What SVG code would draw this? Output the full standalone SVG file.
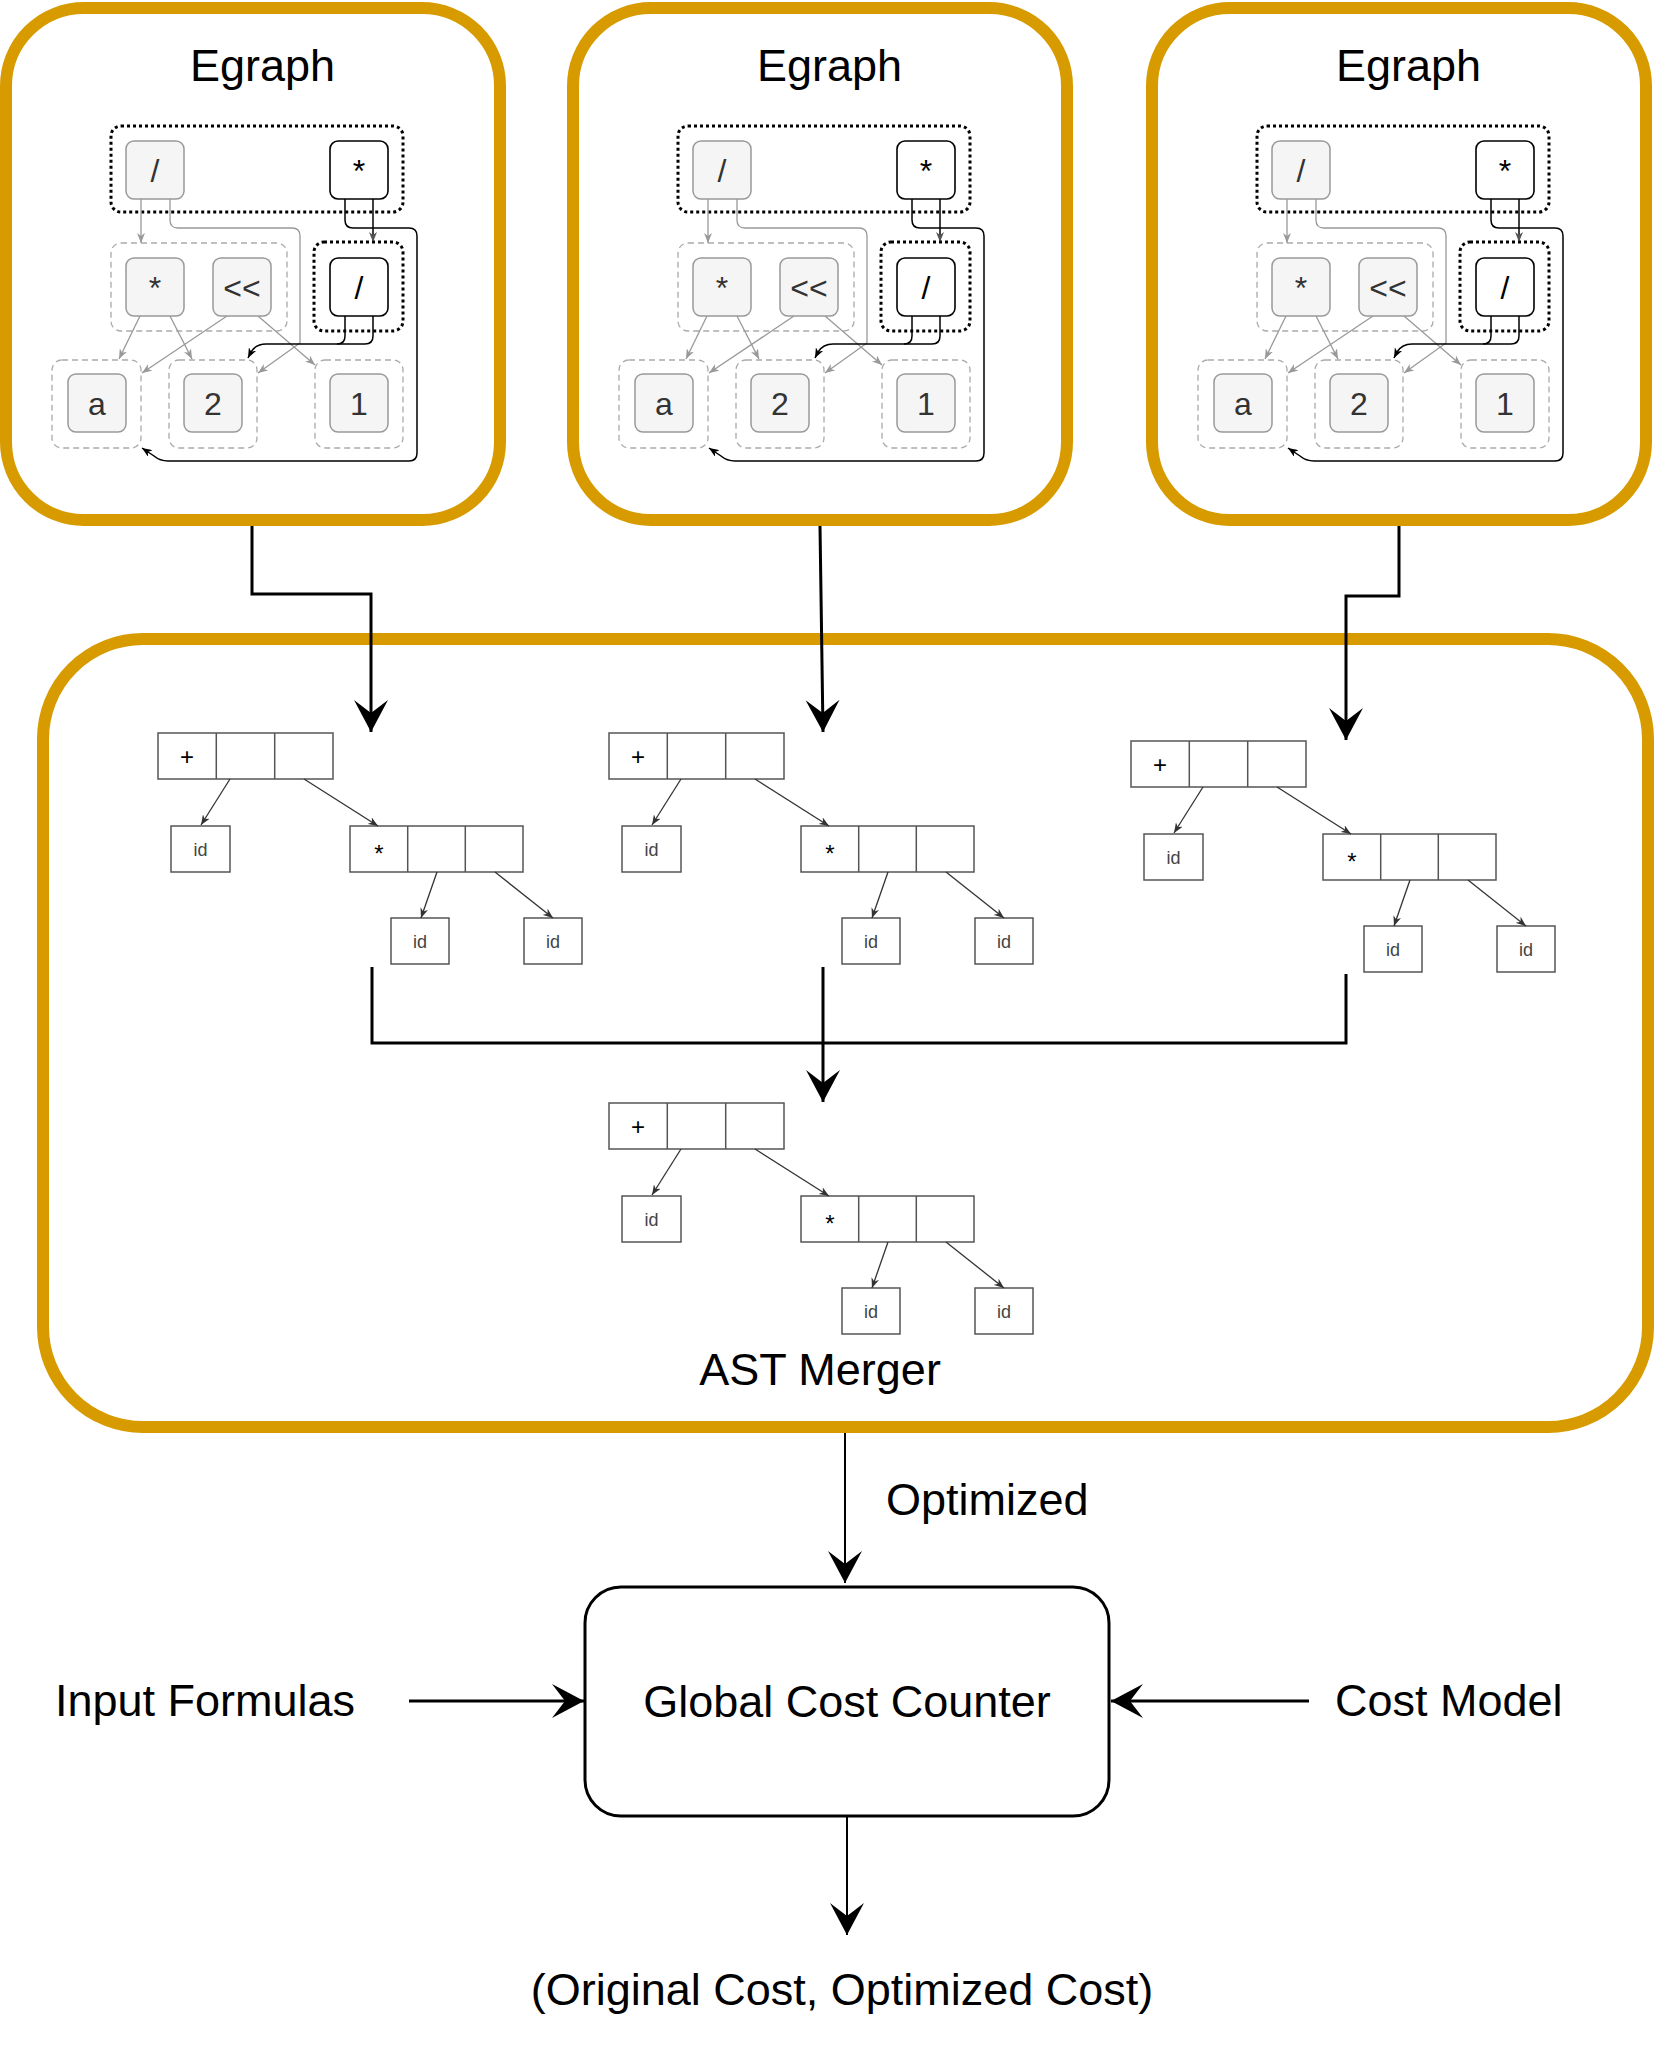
<svg xmlns="http://www.w3.org/2000/svg" width="1656" height="2048" viewBox="0 0 1656 2048">
<style>
text{font-family:"Liberation Sans",Arial,Helvetica,sans-serif}
.orange{fill:#fff;stroke:#D79B00;stroke-width:12}
.title{font-size:45px;fill:#000;text-anchor:middle}
.lbl{font-size:45px;fill:#000}
.dot{fill:none;stroke:#000;stroke-width:3;stroke-dasharray:3 3}
.dash{fill:none;stroke:#aaa;stroke-width:1.3;stroke-dasharray:6 4}
.gn{fill:#f5f5f5;stroke:#999;stroke-width:1.5}
.wn{fill:#fff;stroke:#000;stroke-width:1.6}
.gt{font-size:32px;fill:#333;text-anchor:middle}
.bt{font-size:32px;fill:#000;text-anchor:middle}
.ge{fill:none;stroke:#999;stroke-width:1.3;marker-end:url(#sg)}
.be{fill:none;stroke:#000;stroke-width:1.5}
.rec{fill:#fff;stroke:#555;stroke-width:1.5}
.op{font-size:24px;fill:#000;text-anchor:middle}
.id{font-size:18px;fill:#444;text-anchor:middle}
.te{fill:none;stroke:#333;stroke-width:1.3;marker-end:url(#st)}
.conn{fill:none;stroke:#000;stroke-width:3}
.conn2{fill:none;stroke:#000;stroke-width:2}
</style>
<defs>
<marker id="big" markerUnits="userSpaceOnUse" markerWidth="32" markerHeight="34" viewBox="0 0 32 34" refX="32" refY="17" orient="auto"><path d="M0,0 L32,17 L0,34 L13,17 Z" fill="#000"/></marker>
<marker id="sg" markerUnits="userSpaceOnUse" markerWidth="10" markerHeight="8" viewBox="0 0 10 8" refX="10" refY="4" orient="auto"><path d="M0,0 L10,4 L0,8 L3,4 Z" fill="#999"/></marker>
<marker id="sb" markerUnits="userSpaceOnUse" markerWidth="10" markerHeight="8" viewBox="0 0 10 8" refX="10" refY="4" orient="auto"><path d="M0,0 L10,4 L0,8 L3,4 Z" fill="#000"/></marker>
<marker id="sd" markerUnits="userSpaceOnUse" markerWidth="10" markerHeight="8" viewBox="0 0 10 8" refX="10" refY="4" orient="auto"><path d="M0,0 L10,4 L0,8 L3,4 Z" fill="#555"/></marker>
<marker id="st" markerUnits="userSpaceOnUse" markerWidth="10" markerHeight="8" viewBox="0 0 10 8" refX="10" refY="4" orient="auto"><path d="M0,0 L10,4 L0,8 L3,4 Z" fill="#333"/></marker>
</defs>

<!-- Egraph 1 -->
<g id="egraph1">
<rect class="orange" x="6" y="8" width="494" height="512" rx="78"/>
<text class="title" x="262.5" y="81">Egraph</text>
<g id="e1-classes">
<rect class="dot" x="111" y="126" width="292" height="86" rx="10"/>
<rect class="dash" x="111" y="243" width="176" height="88" rx="10"/>
<rect class="dot" x="314" y="242" width="89" height="89" rx="10"/>
<rect class="dash" x="52" y="360" width="89" height="88" rx="10"/>
<rect class="dash" x="169" y="360" width="88" height="88" rx="10"/>
<rect class="dash" x="315" y="360" width="88" height="88" rx="10"/>
</g>
<g id="e1-edges">
<path class="ge" d="M141,199 L141,243"/>
<path class="ge" d="M170,199 L170,220 Q170,228 178,228 L292,228 Q300,228 300,236 L300,343 L258,373"/>
<path class="ge" d="M140,316 L119,359"/>
<path class="ge" d="M170,316 L192,359"/>
<path class="ge" d="M227,316 L142,373"/>
<path class="ge" d="M258,316 L315,365"/>
<path class="be" d="M373,199 L373,242" stroke="#444" marker-end="url(#sd)"/>
<path class="be" d="M345,199 L345,220 Q345,228 353,228 L409,228 Q417,228 417,236 L417,453 Q417,461 409,461 L168,461 Q160,461 154,456 L142,448" marker-end="url(#sb)"/>
<path class="be" d="M345,316 L345,336 Q345,344 337,344 L266,344 Q256,344 251,352 L248,358" marker-end="url(#sb)"/>
<path class="be" d="M373,316 L373,336 Q373,344 365,344 L337,344"/>
</g>
<g id="e1-n1"><rect class="gn" x="126" y="141" width="58" height="58" rx="8"/><text class="gt" x="155" y="182">/</text></g>
<g id="e1-n2"><rect class="wn" x="330" y="141" width="58" height="58" rx="8"/><text class="bt" x="359" y="182">*</text></g>
<g id="e1-n3"><rect class="gn" x="126" y="258" width="58" height="58" rx="8"/><text class="gt" x="155" y="299">*</text></g>
<g id="e1-n4"><rect class="gn" x="213" y="258" width="58" height="58" rx="8"/><text class="gt" x="242" y="299">&lt;&lt;</text></g>
<g id="e1-n5"><rect class="wn" x="330" y="258" width="58" height="58" rx="8"/><text class="bt" x="359" y="299">/</text></g>
<g id="e1-n6"><rect class="gn" x="68" y="374" width="58" height="58" rx="8"/><text class="gt" x="97" y="415">a</text></g>
<g id="e1-n7"><rect class="gn" x="184" y="374" width="58" height="58" rx="8"/><text class="gt" x="213" y="415">2</text></g>
<g id="e1-n8"><rect class="gn" x="330" y="374" width="58" height="58" rx="8"/><text class="gt" x="359" y="415">1</text></g>
</g>

<!-- Egraph 2 -->
<g id="egraph2" transform="translate(567,0)">
<rect class="orange" x="6" y="8" width="494" height="512" rx="78"/>
<text class="title" x="262.5" y="81">Egraph</text>
<g id="e2-classes">
<rect class="dot" x="111" y="126" width="292" height="86" rx="10"/>
<rect class="dash" x="111" y="243" width="176" height="88" rx="10"/>
<rect class="dot" x="314" y="242" width="89" height="89" rx="10"/>
<rect class="dash" x="52" y="360" width="89" height="88" rx="10"/>
<rect class="dash" x="169" y="360" width="88" height="88" rx="10"/>
<rect class="dash" x="315" y="360" width="88" height="88" rx="10"/>
</g>
<g id="e2-edges">
<path class="ge" d="M141,199 L141,243"/>
<path class="ge" d="M170,199 L170,220 Q170,228 178,228 L292,228 Q300,228 300,236 L300,343 L258,373"/>
<path class="ge" d="M140,316 L119,359"/>
<path class="ge" d="M170,316 L192,359"/>
<path class="ge" d="M227,316 L142,373"/>
<path class="ge" d="M258,316 L315,365"/>
<path class="be" d="M373,199 L373,242" stroke="#444" marker-end="url(#sd)"/>
<path class="be" d="M345,199 L345,220 Q345,228 353,228 L409,228 Q417,228 417,236 L417,453 Q417,461 409,461 L168,461 Q160,461 154,456 L142,448" marker-end="url(#sb)"/>
<path class="be" d="M345,316 L345,336 Q345,344 337,344 L266,344 Q256,344 251,352 L248,358" marker-end="url(#sb)"/>
<path class="be" d="M373,316 L373,336 Q373,344 365,344 L337,344"/>
</g>
<g id="e2-n1"><rect class="gn" x="126" y="141" width="58" height="58" rx="8"/><text class="gt" x="155" y="182">/</text></g>
<g id="e2-n2"><rect class="wn" x="330" y="141" width="58" height="58" rx="8"/><text class="bt" x="359" y="182">*</text></g>
<g id="e2-n3"><rect class="gn" x="126" y="258" width="58" height="58" rx="8"/><text class="gt" x="155" y="299">*</text></g>
<g id="e2-n4"><rect class="gn" x="213" y="258" width="58" height="58" rx="8"/><text class="gt" x="242" y="299">&lt;&lt;</text></g>
<g id="e2-n5"><rect class="wn" x="330" y="258" width="58" height="58" rx="8"/><text class="bt" x="359" y="299">/</text></g>
<g id="e2-n6"><rect class="gn" x="68" y="374" width="58" height="58" rx="8"/><text class="gt" x="97" y="415">a</text></g>
<g id="e2-n7"><rect class="gn" x="184" y="374" width="58" height="58" rx="8"/><text class="gt" x="213" y="415">2</text></g>
<g id="e2-n8"><rect class="gn" x="330" y="374" width="58" height="58" rx="8"/><text class="gt" x="359" y="415">1</text></g>
</g>

<!-- Egraph 3 -->
<g id="egraph3" transform="translate(1146,0)">
<rect class="orange" x="6" y="8" width="494" height="512" rx="78"/>
<text class="title" x="262.5" y="81">Egraph</text>
<g id="e3-classes">
<rect class="dot" x="111" y="126" width="292" height="86" rx="10"/>
<rect class="dash" x="111" y="243" width="176" height="88" rx="10"/>
<rect class="dot" x="314" y="242" width="89" height="89" rx="10"/>
<rect class="dash" x="52" y="360" width="89" height="88" rx="10"/>
<rect class="dash" x="169" y="360" width="88" height="88" rx="10"/>
<rect class="dash" x="315" y="360" width="88" height="88" rx="10"/>
</g>
<g id="e3-edges">
<path class="ge" d="M141,199 L141,243"/>
<path class="ge" d="M170,199 L170,220 Q170,228 178,228 L292,228 Q300,228 300,236 L300,343 L258,373"/>
<path class="ge" d="M140,316 L119,359"/>
<path class="ge" d="M170,316 L192,359"/>
<path class="ge" d="M227,316 L142,373"/>
<path class="ge" d="M258,316 L315,365"/>
<path class="be" d="M373,199 L373,242" stroke="#444" marker-end="url(#sd)"/>
<path class="be" d="M345,199 L345,220 Q345,228 353,228 L409,228 Q417,228 417,236 L417,453 Q417,461 409,461 L168,461 Q160,461 154,456 L142,448" marker-end="url(#sb)"/>
<path class="be" d="M345,316 L345,336 Q345,344 337,344 L266,344 Q256,344 251,352 L248,358" marker-end="url(#sb)"/>
<path class="be" d="M373,316 L373,336 Q373,344 365,344 L337,344"/>
</g>
<g id="e3-n1"><rect class="gn" x="126" y="141" width="58" height="58" rx="8"/><text class="gt" x="155" y="182">/</text></g>
<g id="e3-n2"><rect class="wn" x="330" y="141" width="58" height="58" rx="8"/><text class="bt" x="359" y="182">*</text></g>
<g id="e3-n3"><rect class="gn" x="126" y="258" width="58" height="58" rx="8"/><text class="gt" x="155" y="299">*</text></g>
<g id="e3-n4"><rect class="gn" x="213" y="258" width="58" height="58" rx="8"/><text class="gt" x="242" y="299">&lt;&lt;</text></g>
<g id="e3-n5"><rect class="wn" x="330" y="258" width="58" height="58" rx="8"/><text class="bt" x="359" y="299">/</text></g>
<g id="e3-n6"><rect class="gn" x="68" y="374" width="58" height="58" rx="8"/><text class="gt" x="97" y="415">a</text></g>
<g id="e3-n7"><rect class="gn" x="184" y="374" width="58" height="58" rx="8"/><text class="gt" x="213" y="415">2</text></g>
<g id="e3-n8"><rect class="gn" x="330" y="374" width="58" height="58" rx="8"/><text class="gt" x="359" y="415">1</text></g>
</g>

<!-- AST Merger -->
<g id="ast-merger">
<rect class="orange" x="43" y="639" width="1605" height="788" rx="100"/>
<text class="title" x="820" y="1385">AST Merger</text>
</g>

<!-- Trees -->
<g id="tree1">
<g id="t1-plus"><rect class="rec" x="158" y="733" width="175" height="46"/><path d="M216.3,733 V779 M274.7,733 V779" stroke="#555" stroke-width="1.5"/><text class="op" x="187" y="765">+</text></g>
<g id="t1-id1"><rect class="rec" x="171" y="826" width="59" height="46"/><text class="id" x="200.5" y="855.5">id</text></g>
<g id="t1-star"><rect class="rec" x="350" y="826" width="173" height="46"/><path d="M407.7,826 V872 M465.3,826 V872" stroke="#555" stroke-width="1.5"/><text class="op" x="379" y="862">*</text></g>
<g id="t1-id2"><rect class="rec" x="391" y="918" width="58" height="46"/><text class="id" x="420" y="947.5">id</text></g>
<g id="t1-id3"><rect class="rec" x="524" y="918" width="58" height="46"/><text class="id" x="553" y="947.5">id</text></g>
<g id="t1-edges"><path class="te" d="M230,779 L201,825"/><path class="te" d="M304,779 L378,826"/><path class="te" d="M437,872 L421,918"/><path class="te" d="M495,872 L553,918"/></g>
</g>
<g id="tree2" transform="translate(451,0)">
<g id="t2-plus"><rect class="rec" x="158" y="733" width="175" height="46"/><path d="M216.3,733 V779 M274.7,733 V779" stroke="#555" stroke-width="1.5"/><text class="op" x="187" y="765">+</text></g>
<g id="t2-id1"><rect class="rec" x="171" y="826" width="59" height="46"/><text class="id" x="200.5" y="855.5">id</text></g>
<g id="t2-star"><rect class="rec" x="350" y="826" width="173" height="46"/><path d="M407.7,826 V872 M465.3,826 V872" stroke="#555" stroke-width="1.5"/><text class="op" x="379" y="862">*</text></g>
<g id="t2-id2"><rect class="rec" x="391" y="918" width="58" height="46"/><text class="id" x="420" y="947.5">id</text></g>
<g id="t2-id3"><rect class="rec" x="524" y="918" width="58" height="46"/><text class="id" x="553" y="947.5">id</text></g>
<g id="t2-edges"><path class="te" d="M230,779 L201,825"/><path class="te" d="M304,779 L378,826"/><path class="te" d="M437,872 L421,918"/><path class="te" d="M495,872 L553,918"/></g>
</g>
<g id="tree3" transform="translate(973,8)">
<g id="t3-plus"><rect class="rec" x="158" y="733" width="175" height="46"/><path d="M216.3,733 V779 M274.7,733 V779" stroke="#555" stroke-width="1.5"/><text class="op" x="187" y="765">+</text></g>
<g id="t3-id1"><rect class="rec" x="171" y="826" width="59" height="46"/><text class="id" x="200.5" y="855.5">id</text></g>
<g id="t3-star"><rect class="rec" x="350" y="826" width="173" height="46"/><path d="M407.7,826 V872 M465.3,826 V872" stroke="#555" stroke-width="1.5"/><text class="op" x="379" y="862">*</text></g>
<g id="t3-id2"><rect class="rec" x="391" y="918" width="58" height="46"/><text class="id" x="420" y="947.5">id</text></g>
<g id="t3-id3"><rect class="rec" x="524" y="918" width="58" height="46"/><text class="id" x="553" y="947.5">id</text></g>
<g id="t3-edges"><path class="te" d="M230,779 L201,825"/><path class="te" d="M304,779 L378,826"/><path class="te" d="M437,872 L421,918"/><path class="te" d="M495,872 L553,918"/></g>
</g>
<g id="tree-merged" transform="translate(451,370)">
<g id="tm-plus"><rect class="rec" x="158" y="733" width="175" height="46"/><path d="M216.3,733 V779 M274.7,733 V779" stroke="#555" stroke-width="1.5"/><text class="op" x="187" y="765">+</text></g>
<g id="tm-id1"><rect class="rec" x="171" y="826" width="59" height="46"/><text class="id" x="200.5" y="855.5">id</text></g>
<g id="tm-star"><rect class="rec" x="350" y="826" width="173" height="46"/><path d="M407.7,826 V872 M465.3,826 V872" stroke="#555" stroke-width="1.5"/><text class="op" x="379" y="862">*</text></g>
<g id="tm-id2"><rect class="rec" x="391" y="918" width="58" height="46"/><text class="id" x="420" y="947.5">id</text></g>
<g id="tm-id3"><rect class="rec" x="524" y="918" width="58" height="46"/><text class="id" x="553" y="947.5">id</text></g>
<g id="tm-edges"><path class="te" d="M230,779 L201,825"/><path class="te" d="M304,779 L378,826"/><path class="te" d="M437,872 L421,918"/><path class="te" d="M495,872 L553,918"/></g>
</g>

<!-- Global Cost Counter -->
<g id="global-cost-counter">
<rect x="585" y="1587" width="524" height="229" rx="36" fill="#fff" stroke="#000" stroke-width="3"/>
<text class="title" x="847" y="1717">Global Cost Counter</text>
</g>
<g id="input-formulas"><text class="lbl" x="55" y="1716">Input Formulas</text></g>
<g id="cost-model"><text class="lbl" x="1335" y="1716">Cost Model</text></g>
<g id="result"><text class="title" x="842" y="2005">(Original Cost, Optimized Cost)</text></g>

<!-- Connectors -->
<g id="connectors">
<path class="conn" d="M252,526 L252,594 L371,594 L371,732" marker-end="url(#big)"/>
<path class="conn" d="M820,526 L823,732" marker-end="url(#big)"/>
<path class="conn" d="M1399,526 L1399,596 L1346,596 L1346,740" marker-end="url(#big)"/>
<path class="conn" d="M372,967 L372,1043 L1346,1043 L1346,974"/>
<path class="conn" d="M823,967 L823,1102" marker-end="url(#big)"/>
<path class="conn2" d="M845,1433 L845,1583" marker-end="url(#big)"/>
<text class="lbl" x="886" y="1515">Optimized</text>
<path class="conn" d="M409,1701 L584,1701" marker-end="url(#big)"/>
<path class="conn" d="M1309,1701 L1111,1701" marker-end="url(#big)"/>
<path class="conn2" d="M847,1817 L847,1935" marker-end="url(#big)"/>
</g>
</svg>
